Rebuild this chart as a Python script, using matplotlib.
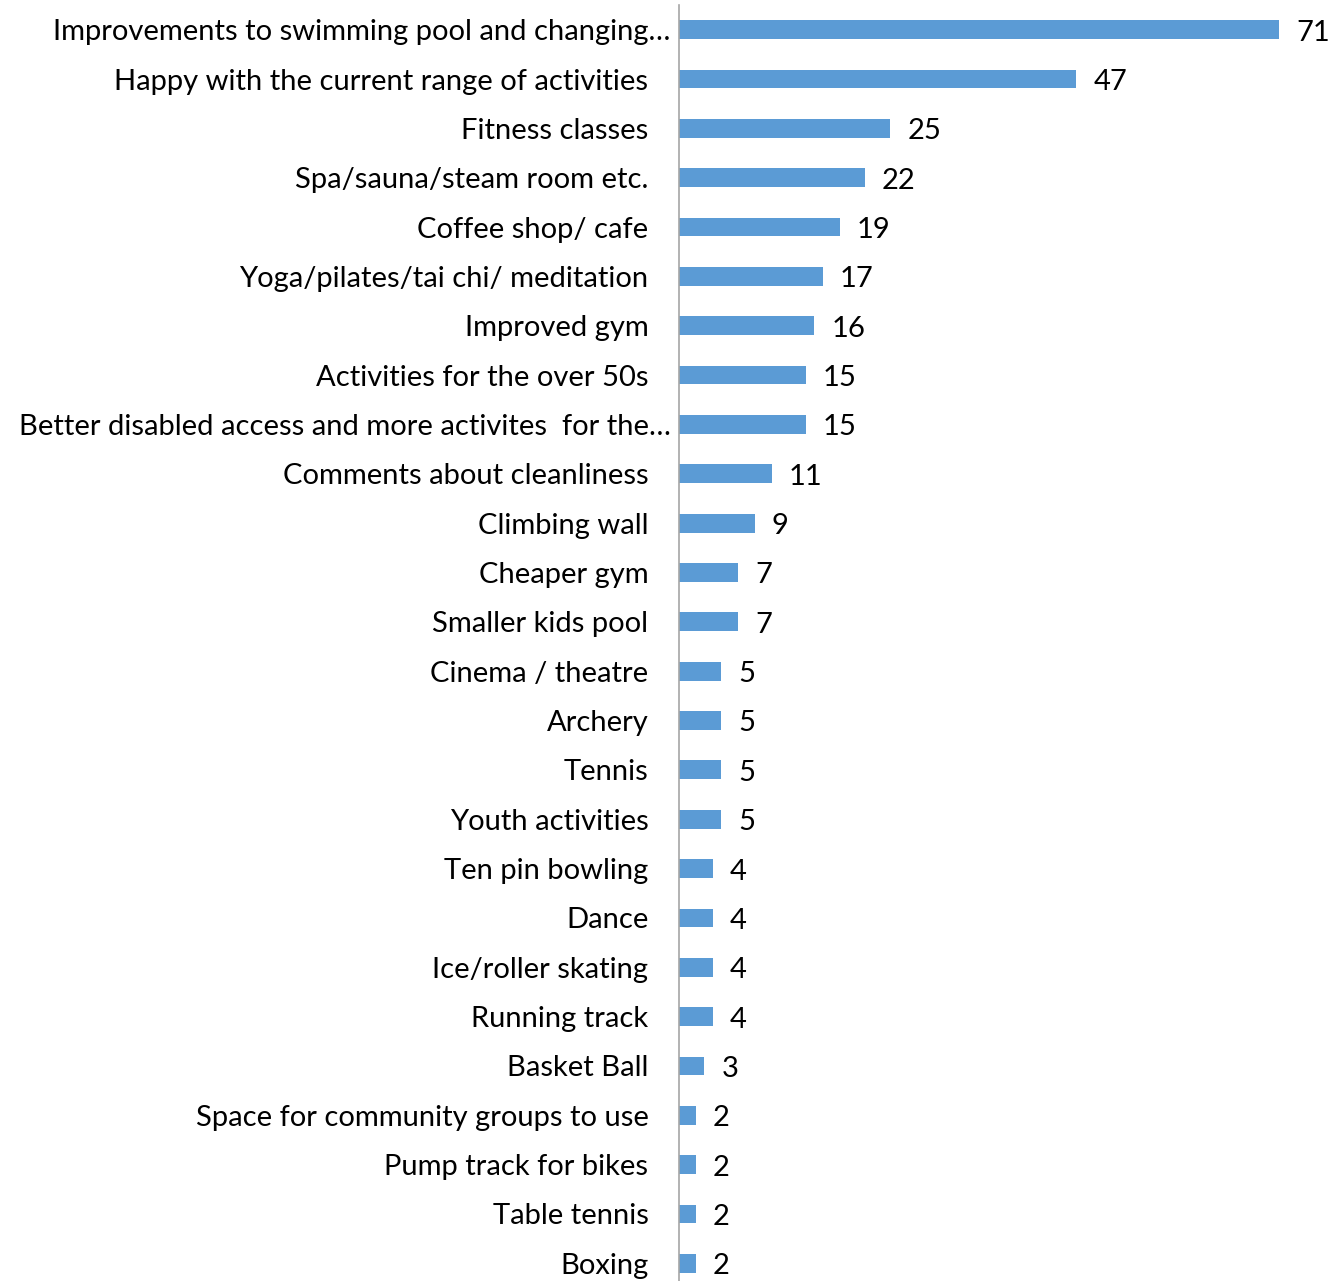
import numpy as np
import matplotlib
matplotlib.use("Agg")
import matplotlib.pyplot as plt
import matplotlib.transforms as mtransforms

plt.rcParams['font.family'] = ['Lato', 'DejaVu Sans']

categories = [
    "Improvements to swimming pool and changing…",
    "Happy with the current range of activities",
    "Fitness classes",
    "Spa/sauna/steam room etc.",
    "Coffee shop/ cafe",
    "Yoga/pilates/tai chi/ meditation",
    "Improved gym",
    "Activities for the over 50s",
    "Better disabled access and more activites  for the…",
    "Comments about cleanliness",
    "Climbing wall",
    "Cheaper gym",
    "Smaller kids pool",
    "Cinema / theatre",
    "Archery",
    "Tennis",
    "Youth activities",
    "Ten pin bowling",
    "Dance",
    "Ice/roller skating",
    "Running track",
    "Basket Ball",
    "Space for community groups to use",
    "Pump track for bikes",
    "Table tennis",
    "Boxing",
]
values = [71, 47, 25, 22, 19, 17, 16, 15, 15, 11, 9, 7, 7, 5, 5, 5, 5, 4, 4, 4, 4, 3, 2, 2, 2, 2]

W, H = 1342, 1281
fig = plt.figure(figsize=(W / 100, H / 100), dpi=100)
ax = fig.add_axes([679 / W, (H - 1288) / H, 634 / W, 1283 / H])

y = np.arange(len(categories))
ax.barh(y, values, height=0.38, color='#5B9BD5')
ax.set_ylim(len(categories) - 0.5, -0.5)
ax.set_xlim(0, 75)

ax.set_yticks(y)
ax.set_yticklabels(categories, fontsize=21, color='#000000')
ax.tick_params(axis='y', length=0, pad=22)
ax.set_xticks([])

# truncated labels run past the others, like in the original
shift = mtransforms.ScaledTranslation(22 / 100, 0, fig.dpi_scale_trans)
for lab in ax.get_yticklabels():
    if lab.get_text().endswith("…"):
        lab.set_transform(lab.get_transform() + shift)

for s in ['top', 'right', 'bottom']:
    ax.spines[s].set_visible(False)
ax.spines['left'].set_color('#A6A6A6')
ax.spines['left'].set_linewidth(1.2)

for yi, v in zip(y, values):
    ax.text(v + 2.0, yi + 0.06, str(v), va='center', ha='left', fontsize=21, color='#000000')

fig.savefig('out.png', dpi=100)
